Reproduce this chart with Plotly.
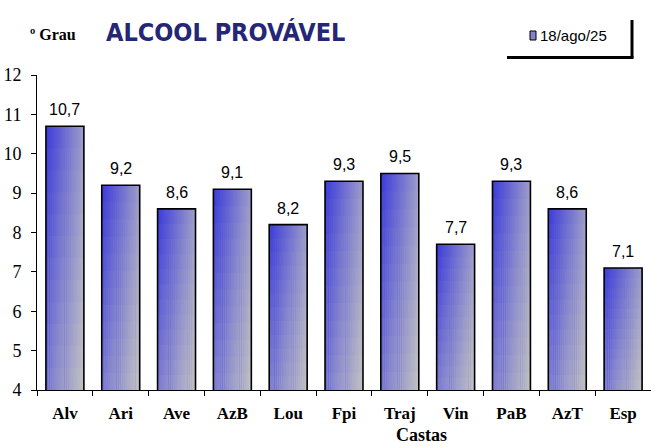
import plotly.graph_objects as go

categories = ["Alv", "Ari", "Ave", "AzB", "Lou", "Fpi", "Traj", "Vin", "PaB", "AzT", "Esp"]
values = [10.7, 9.2, 8.6, 9.1, 8.2, 9.3, 9.5, 7.7, 9.3, 8.6, 7.1]
series_name = "18/ago/25"
y_ticks = [4, 5, 6, 7, 8, 9, 10, 11, 12]
Y_MIN, Y_MAX = 4, 12

BAR_W = 0.68
NX, NY = 20, 12
TL = (58, 58, 218)    # top-left
TR = (156, 156, 202)  # top-right
BL = (126, 126, 210)  # bottom-left
BR = (194, 194, 194)  # bottom-right

L, T, B = 37, 75, 58
PW, PH = 651 - L, 448 - T - B


def px(x):
    return (x - L) / PW


def py(y):
    return (448 - B - y) / PH


fig = go.Figure()
for k in range(NX):
    tx = (k + 0.5) / NX
    for j in reversed(range(NY)):
        ty = (j + 0.5) / NY  # 0 bottom, 1 top
        col = tuple(round(
            TL[i] * (1 - tx) * ty + TR[i] * tx * ty + BL[i] * (1 - tx) * (1 - ty) + BR[i] * tx * (1 - ty)
        ) for i in range(3))
        fig.add_trace(go.Bar(
            x=categories, y=[(v - Y_MIN) * (j + 1) / NY for v in values], base=Y_MIN,
            width=BAR_W * (NX - k) / NX, offset=-BAR_W / 2 + k * BAR_W / NX,
            marker=dict(color="rgb(%d,%d,%d)" % col, line=dict(width=0)),
            showlegend=False, hoverinfo="skip"))

fig.add_trace(go.Bar(
    x=categories, y=values, width=BAR_W,
    marker=dict(color="rgba(0,0,0,0)", line=dict(color="black", width=1.6)),
    showlegend=False))

serif = "Liberation Serif, Times New Roman, serif"
annotations = [
    dict(x=c, y=v, xref="x", yref="y", text=("%.1f" % v).replace(".", ","),
         showarrow=False, xanchor="center", yanchor="bottom", yshift=6,
         font=dict(family="Liberation Sans, Arial", size=16, color="black"))
    for c, v in zip(categories, values)
]
annotations += [
    dict(text="ALCOOL PROVÁVEL", xref="paper", yref="paper", x=px(225), y=py(32),
         showarrow=False, xanchor="center", yanchor="middle",
         font=dict(family="DejaVu Sans Condensed", size=25, color="#262676", weight="bold")),
    dict(text="º Grau", xref="paper", yref="paper", x=px(28), y=py(34),
         showarrow=False, xanchor="left", yanchor="middle",
         font=dict(family=serif, size=16, color="black", weight="bold")),
    dict(text="Castas", xref="paper", yref="paper", x=px(422), y=py(435),
         showarrow=False, xanchor="center", yanchor="middle",
         font=dict(family=serif, size=18, color="black", weight="bold")),
    dict(text=series_name, xref="paper", yref="paper", x=px(538), y=py(35),
         showarrow=False, xanchor="left", yanchor="middle",
         font=dict(family="Liberation Sans, Arial", size=15, color="black")),
]

fig.update_layout(
    width=651, height=448, barmode="overlay",
    margin=dict(l=L, r=0, t=T, b=B),
    plot_bgcolor="white", paper_bgcolor="white",
    showlegend=False,
    xaxis=dict(showline=True, linecolor="black", linewidth=1, automargin=False,
               ticks="outside", ticklen=5, tickcolor="black", tickson="boundaries",
               ticklabelstandoff=8,
               tickfont=dict(family=serif, size=17, color="black", weight="bold"),
               range=[-0.5, 10.5]),
    yaxis=dict(range=[Y_MIN, Y_MAX], tickvals=y_ticks, showline=True, linecolor="black", linewidth=1,
               ticks="outside", ticklen=5, tickcolor="black", showgrid=False, zeroline=False,
               automargin=False, ticklabelstandoff=6,
               tickfont=dict(family=serif, size=18, color="black")),
    annotations=annotations,
    shapes=[
        dict(type="rect", xref="paper", yref="paper",
             x0=px(530), x1=px(536), y0=py(40), y1=py(31),
             line=dict(color="black", width=1),
             fillcolor="rgb(130,130,205)"),
        dict(type="line", xref="paper", yref="paper",
             x0=px(507), x1=px(633.5), y0=py(57.5), y1=py(57.5),
             line=dict(color="black", width=3)),
        dict(type="line", xref="paper", yref="paper",
             x0=px(632), x1=px(632), y0=py(57.5), y1=py(20),
             line=dict(color="black", width=3)),
    ],
)

fig.write_html("out.html", config={"displayModeBar": False},
               post_script="document.body.style.margin='0px';")
